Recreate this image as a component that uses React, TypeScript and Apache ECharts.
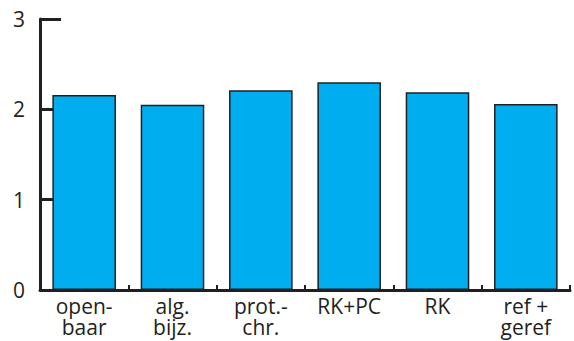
import React, { useEffect, useRef } from "react";
import * as echarts from "echarts";

const categories = ["open-\nbaar", "alg.\nbijz.", "prot.-\nchr.", "RK+PC", "RK", "ref +\ngeref"];
const values = [2.16, 2.05, 2.21, 2.3, 2.19, 2.06];
const yTicks = { min: 0, max: 3, interval: 1 };

export default function App() {
  const ref = useRef<HTMLDivElement>(null);
  useEffect(() => {
    if (!ref.current) return;
    const chart = echarts.init(ref.current, undefined, { renderer: "svg" });
    const axisColor = "#231f20";
    chart.setOption({
      animation: false,
      grid: { left: 40, right: 4, top: 19, bottom: 51, containLabel: false },
      xAxis: {
        type: "category",
        data: categories,
        axisLine: { show: true, lineStyle: { color: axisColor, width: 3 } },
        axisTick: { show: true, inside: true, length: 5, lineStyle: { color: axisColor, width: 2 } },
        axisLabel: {
          color: axisColor,
          fontFamily: "Open Sans",
          fontSize: 21,
          lineHeight: 21,
          margin: 5,
          interval: 0,
        },
      },
      yAxis: {
        type: "value",
        min: yTicks.min,
        max: yTicks.max,
        interval: yTicks.interval,
        splitLine: { show: false },
        axisLine: { show: true, lineStyle: { color: axisColor, width: 3 } },
        axisTick: { show: true, inside: true, length: 21, lineStyle: { color: axisColor, width: 3 } },
        axisLabel: {
          color: axisColor,
          fontFamily: "Open Sans",
          fontSize: 21,
          margin: 15,
        },
      },
      series: [
        {
          type: "bar",
          data: values,
          barCategoryGap: "28%",
          itemStyle: { color: "#00aeef", borderColor: "#231f20", borderWidth: 1.5 },
        },
      ],
    });
    return () => chart.dispose();
  }, []);
  return <div ref={ref} style={{ width: 574, height: 341, position: "absolute", left: 0, top: 0 }} />;
}
